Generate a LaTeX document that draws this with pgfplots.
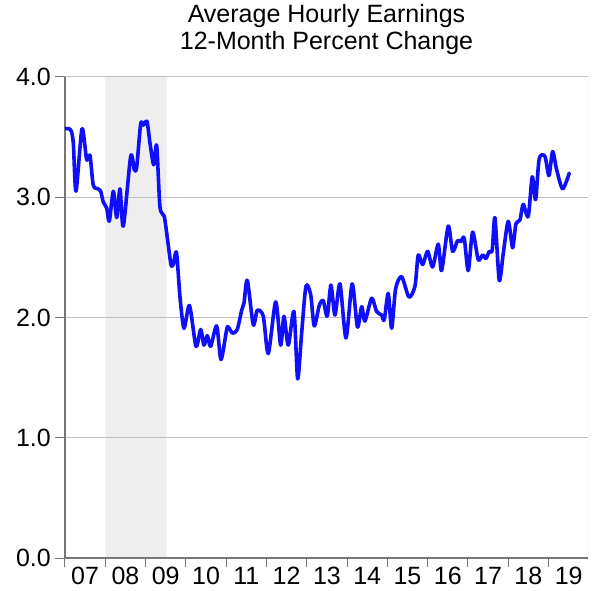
\documentclass[border=0pt]{standalone}
\usepackage{fontspec}
\setmainfont{Liberation Sans}
\usepackage{pgfplots}
\pgfplotsset{compat=1.18}
\usetikzlibrary{calc}
\definecolor{rec}{RGB}{238,238,238}
\definecolor{gridc}{RGB}{192,192,192}
\definecolor{axc}{RGB}{118,118,118}
\definecolor{ln}{RGB}{15,15,250}
\begin{document}
\begin{tikzpicture}
\begin{axis}[
  set layers,
  scale only axis, width=523pt, height=481pt,
  xmin=2007, xmax=2019.98, ymin=0, ymax=4,
  axis x line*=bottom, axis y line*=left,
  axis line style={axc, line width=1.3pt},
  /pgf/number format/assume math mode=true,
  ytick={0,1,2,3,4},
  yticklabel style={/pgf/number format/fixed, /pgf/number format/fixed zerofill, /pgf/number format/precision=1, inner sep=2pt, xshift=-2pt},
  ymajorgrids, grid style={gridc, line width=1pt},
  xtick={2007.5,2008.5,2009.5,2010.5,2011.5,2012.5,2013.5,2014.5,2015.5,2016.5,2017.5,2018.5,2019.5},
  xticklabels={07,08,09,10,11,12,13,14,15,16,17,18,19},
  major x tick style={draw=none},
  minor xtick={2007,2008,2009,2010,2011,2012,2013,2014,2015,2016,2017,2018,2019},
  tick align=outside,
  tick style={axc, line width=1pt},
  major tick length=10pt, minor tick length=9pt,
  xticklabel style={inner sep=2pt, yshift=3pt},
  ticklabel style={font=\fontsize{25}{27}\selectfont},
  title={Average Hourly Earnings\\12-Month Percent Change},
  title style={align=center, font=\fontsize{25}{27}\selectfont, anchor=south, at={(0.5,1)}, inner sep=0pt, yshift=16pt},
]
\addplot[fill=rec, draw=none, on layer=axis background] coordinates {(2008.0,0) (2008.0,4) (2009.52,4) (2009.52,0)} \closedcycle;
\addplot[ln, line width=3.6pt, line join=round, line cap=round, smooth, tension=0.45] table[row sep=\\] {
x y\\
2007.000 3.57\\
2007.141 3.56\\
2007.206 3.45\\
2007.273 3.05\\
2007.422 3.57\\
2007.538 3.31\\
2007.620 3.35\\
2007.702 3.10\\
2007.826 3.07\\
2007.886 3.05\\
2007.950 2.96\\
2008.035 2.91\\
2008.099 2.80\\
2008.199 3.05\\
2008.283 2.83\\
2008.365 3.07\\
2008.447 2.76\\
2008.630 3.34\\
2008.720 3.23\\
2008.779 3.25\\
2008.878 3.61\\
2008.943 3.60\\
2009.035 3.63\\
2009.109 3.45\\
2009.201 3.27\\
2009.275 3.43\\
2009.357 2.92\\
2009.464 2.84\\
2009.548 2.64\\
2009.630 2.44\\
2009.687 2.44\\
2009.767 2.54\\
2009.854 2.17\\
2009.953 1.91\\
2010.089 2.10\\
2010.251 1.76\\
2010.367 1.90\\
2010.449 1.77\\
2010.531 1.85\\
2010.615 1.76\\
2010.764 1.93\\
2010.871 1.65\\
2011.012 1.90\\
2011.052 1.92\\
2011.161 1.87\\
2011.275 1.90\\
2011.385 2.06\\
2011.442 2.12\\
2011.524 2.31\\
2011.672 1.94\\
2011.772 2.06\\
2011.921 2.01\\
2012.045 1.70\\
2012.228 2.13\\
2012.352 1.77\\
2012.434 2.01\\
2012.541 1.77\\
2012.682 2.05\\
2012.774 1.49\\
2012.873 1.87\\
2012.980 2.26\\
2013.097 2.19\\
2013.186 1.93\\
2013.310 2.10\\
2013.409 2.14\\
2013.509 2.01\\
2013.600 2.27\\
2013.700 2.02\\
2013.824 2.28\\
2013.973 1.83\\
2014.127 2.28\\
2014.258 1.92\\
2014.362 2.09\\
2014.444 1.97\\
2014.610 2.16\\
2014.734 2.05\\
2014.859 2.02\\
2014.923 1.98\\
2015.022 2.20\\
2015.107 1.91\\
2015.206 2.24\\
2015.355 2.34\\
2015.536 2.17\\
2015.685 2.26\\
2015.767 2.52\\
2015.876 2.44\\
2016.000 2.55\\
2016.124 2.42\\
2016.263 2.61\\
2016.347 2.39\\
2016.511 2.76\\
2016.620 2.55\\
2016.744 2.64\\
2016.826 2.63\\
2016.908 2.66\\
2017.007 2.39\\
2017.117 2.71\\
2017.256 2.48\\
2017.365 2.52\\
2017.447 2.49\\
2017.529 2.55\\
2017.603 2.56\\
2017.670 2.83\\
2017.777 2.31\\
2017.876 2.53\\
2018.000 2.80\\
2018.109 2.58\\
2018.191 2.78\\
2018.290 2.81\\
2018.372 2.94\\
2018.496 2.84\\
2018.596 3.17\\
2018.680 2.98\\
2018.769 3.32\\
2018.911 3.34\\
2019.010 3.18\\
2019.102 3.38\\
2019.201 3.23\\
2019.350 3.07\\
2019.514 3.20\\
};
\coordinate (SW) at (rel axis cs:0,0);
\coordinate (NE) at (rel axis cs:1,1);
\draw[gridc, line width=1pt] (rel axis cs:0,1) -- (rel axis cs:1,1) -- (rel axis cs:1,0);
\end{axis}
\pgfresetboundingbox
\path[use as bounding box] ($(SW)+(-65pt,-32pt)$) rectangle ($(NE)+(4pt,77pt)$);
\end{tikzpicture}
\end{document}
